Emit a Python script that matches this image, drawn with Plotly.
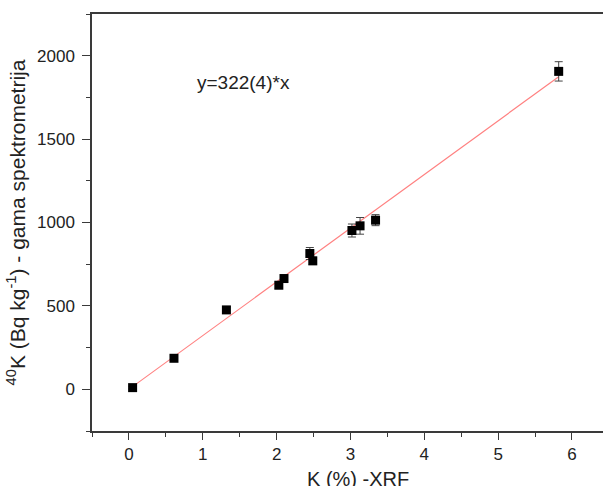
import plotly.graph_objects as go

# Data
k_xrf = [0.05, 0.61, 1.32, 2.03, 2.10, 2.45, 2.49, 3.02, 3.13, 3.34, 5.82]
k40_gamma = [10, 186, 476, 624, 664, 814, 770, 952, 980, 1014, 1906]
k40_err = [8, 15, 18, 20, 20, 36, 22, 39, 50, 33, 58]

# Fitted line y = 322*x (endpoints at data extremes)
fit_x = [0.05, 5.82]
fit_y = [16, 1874]

x_ticks = [0, 1, 2, 3, 4, 5, 6]
y_ticks = [0, 500, 1000, 1500, 2000]

FONT = "Liberation Sans, Arial, sans-serif"
AX = "#3a3a3a"
TXT = "#222222"

fig = go.Figure()
fig.add_trace(go.Scatter(
    x=fit_x, y=fit_y, mode="lines",
    line=dict(color="#ff8080", width=1.2),
    showlegend=False, hoverinfo="skip"))
fig.add_trace(go.Scatter(
    x=k_xrf, y=k40_gamma, mode="markers",
    marker=dict(symbol="square", size=9, color="black"),
    error_y=dict(type="data", array=k40_err, visible=True,
                 color="#444444", thickness=1, width=4),
    showlegend=False))

fig.add_annotation(
    x=0.89, y=1840, xref="x", yref="y",
    text="y=322(4)*x", showarrow=False,
    font=dict(family=FONT, size=19, color=TXT),
    xanchor="left", yanchor="middle")

# x-axis title (placed as annotation to match its off-centre position)
fig.add_annotation(
    x=0.52, y=0, xref="paper", yref="paper",
    text="K (%) -XRF", showarrow=False,
    font=dict(family=FONT, size=20, color=TXT),
    xanchor="center", yanchor="top", yshift=-35)

fig.update_layout(
    width=603, height=486,
    margin=dict(l=92, r=0, t=14, b=55),
    paper_bgcolor="white", plot_bgcolor="white",
    font=dict(family=FONT, size=17, color=TXT),
    xaxis=dict(
        range=[-0.5, 6.42], tickvals=x_ticks,
        showline=True, linecolor=AX, linewidth=1.5, mirror=True,
        ticks="outside", ticklen=7, tickwidth=1.2, tickcolor=AX,
        minor=dict(dtick=0.5, ticks="outside", ticklen=4, tickcolor=AX, tickwidth=1.2, showgrid=False),
        showgrid=False, zeroline=False,
        tickfont=dict(size=17, color=TXT),
        automargin=False),
    yaxis=dict(
        range=[-250, 2250], tickvals=y_ticks,
        showline=True, linecolor=AX, linewidth=1.5,
        ticks="outside", ticklen=8, tickwidth=1.2, tickcolor=AX,
        minor=dict(dtick=250, ticks="outside", ticklen=4, tickcolor=AX, tickwidth=1.2, showgrid=False),
        showgrid=False, zeroline=False,
        tickfont=dict(size=17, color=TXT),
        ticklabelstandoff=4,
        title=dict(text="<sup>40</sup>K (Bq kg<sup>-1</sup>) - gama spektrometrija",
                   font=dict(size=21, color=TXT), standoff=6),
        automargin=False),
)

fig.write_html("out.html",
               config={"displayModeBar": False},
               post_script="document.body.style.margin='0';document.body.style.overflow='hidden';")
